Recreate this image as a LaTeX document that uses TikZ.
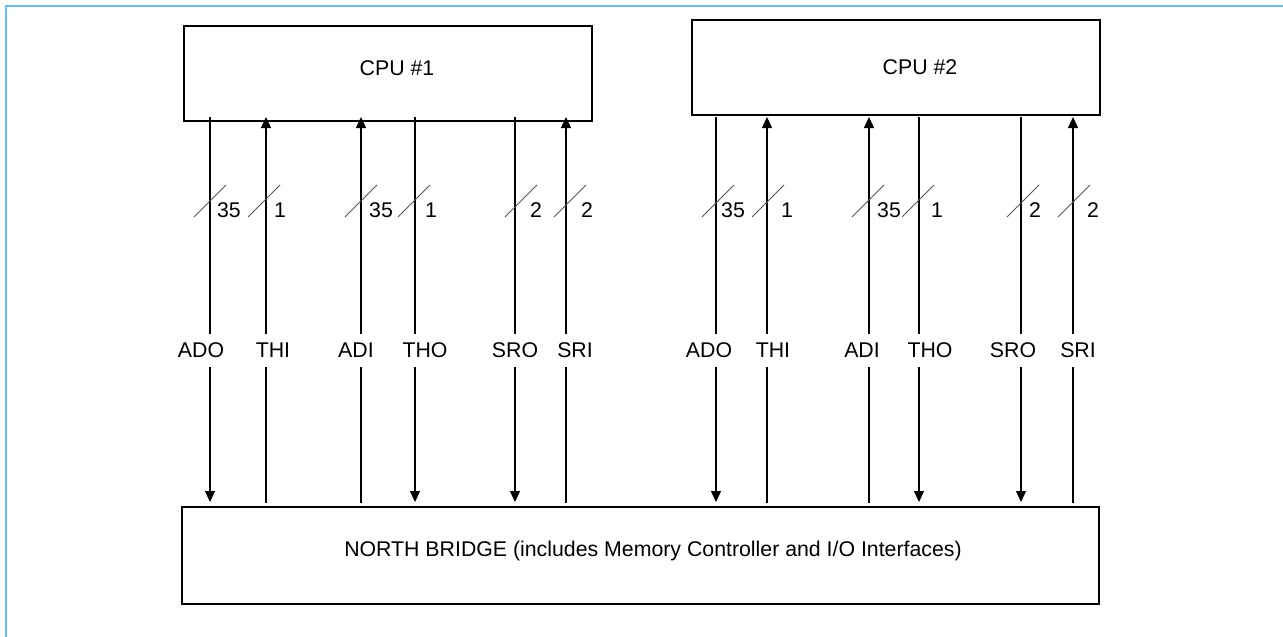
\documentclass[tikz,border=0pt]{standalone}
\usepackage{fontspec}
\setmainfont{Liberation Sans}
\usetikzlibrary{arrows.meta}
\definecolor{framecol}{HTML}{66BEFF}
\definecolor{slashcol}{HTML}{555555}
\tikzset{
  box/.style={draw, line width=1.4pt, inner sep=0pt},
  sig/.style={line width=1.2pt},
  tipped/.style={-{Triangle[length=11pt,width=10pt]}},
  txt/.style={font=\fontsize{21.3}{25}\selectfont, inner sep=0pt},
  slashline/.style={draw=slashcol, line width=1pt},
  framel/.style={draw=framecol, line width=2.6pt},
}
\newcommand{\sigdown}[7]{% name, line x, label x, label, slash x, num x, num
  \coordinate (#1t) at (#2,117);
  \coordinate (#1g1) at (#2,334);
  \coordinate (#1g2) at (#2,367);
  \coordinate (#1b) at (#2,502);
  \draw[sig] (#1t) -- (#1g1);
  \draw[sig,tipped] (#1g2) -- (#1b);
  \node[txt] (#1l) at (#3,350) {#4};
  \coordinate (#1s1) at (#5-16,217);
  \coordinate (#1s2) at (#5+16,185);
  \draw[slashline] (#1s1) -- (#1s2);
  \node[txt] (#1n) at (#6,210) {#7};
}
\newcommand{\sigup}[7]{%
  \coordinate (#1t) at (#2,117);
  \coordinate (#1g1) at (#2,334);
  \coordinate (#1g2) at (#2,367);
  \coordinate (#1b) at (#2,503);
  \draw[sig,tipped] (#1g1) -- (#1t);
  \draw[sig] (#1b) -- (#1g2);
  \node[txt] (#1l) at (#3,350) {#4};
  \coordinate (#1s1) at (#5-16,217);
  \coordinate (#1s2) at (#5+16,185);
  \draw[slashline] (#1s1) -- (#1s2);
  \node[txt] (#1n) at (#6,210) {#7};
}
\begin{document}
\begin{tikzpicture}[x=1pt,y=-1pt]
\useasboundingbox (0,0) rectangle (1283,637);
% frame
\coordinate (fb) at (6,637);
\coordinate (fc) at (6,6);
\coordinate (fr) at (1283,6);
\draw[framel] (fb) -- (fc) -- (fr);
% boxes
\node[box, minimum width=408pt, minimum height=95pt] (cpu1) at (388,73.5) {};
\node[txt] (cpu1t) at (397,68) {CPU \#1};
\node[box, minimum width=408pt, minimum height=95pt] (cpu2) at (896,67.5) {};
\node[txt] (cpu2t) at (920,67) {CPU \#2};
\node[box, minimum width=917pt, minimum height=97pt] (nb) at (640.5,555.5) {};
\node[txt] (nbt) at (653,551) {NORTH BRIDGE (includes Memory Controller and I/O Interfaces)};
% CPU 1 signals
\sigdown{ado1}{210}{201}{ADO}{210}{229}{35}
\sigup{thi1}{266}{273}{THI}{264}{280}{1}
\sigup{adi1}{361}{356}{ADI}{361}{381}{35}
\sigdown{tho1}{415}{425}{THO}{414}{431}{1}
\sigdown{sro1}{515}{515}{SRO}{521}{536}{2}
\sigup{sri1}{566}{575}{SRI}{570}{587}{2}
% CPU 2 signals
\sigdown{ado2}{716}{709}{ADO}{718}{733}{35}
\sigup{thi2}{767}{773}{THI}{768}{787}{1}
\sigup{adi2}{869}{862}{ADI}{868}{889}{35}
\sigdown{tho2}{919}{930}{THO}{918}{937}{1}
\sigdown{sro2}{1021}{1013}{SRO}{1023}{1035}{2}
\sigup{sri2}{1073}{1078}{SRI}{1074}{1093}{2}
\end{tikzpicture}
\end{document}
